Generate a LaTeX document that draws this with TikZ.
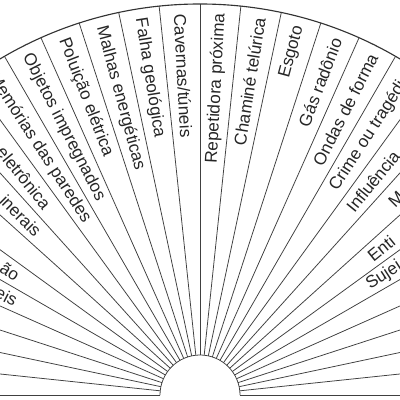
\documentclass[tikz,border=0pt]{standalone}
\usepackage{fontspec}
\setmainfont{Liberation Sans}
\usepackage{tikz}
\usetikzlibrary{calc}
\tikzset{
  rotulo/.style={inner sep=0, text=black!85, font=\fontsize{12.2}{14}\selectfont},
  raio/.style={black!75, line width=.55pt},
}

\begin{document}
\begin{tikzpicture}
\useasboundingbox (-5,-0.125) rectangle (5,9.875);
% raios do semicirculo
\foreach \a in {0,6,...,180} {
 \draw[raio] (\a:1) -- (\a:9.775);
}
\draw[black!80, line width=.8pt] (9.775,0) arc (0:180:9.775);
\draw[raio] (1,0) arc (0:180:1);
% lado esquerdo
\foreach \a/\t/\n in {93/{Cavernas/túneis}/cav, 99/{Falha geológica}/falha, 105/{Malhas energéticas}/malhas, 111/{Poluição elétrica}/polu, 117/{Objetos impregnados}/obj, 123/{Memórias das paredes}/mem} {
 \node[rotulo, anchor=west, rotate=\a-180] (\n) at (\a:9.55) {\t};
}
\node[rotulo, anchor=east, rotate=-51] (eletr) at (129:6.05) {eletrônica};
\node[rotulo, anchor=east, rotate=-45] (miner) at (135:5.7) {inerais};
\node[rotulo, anchor=east, rotate=-33] (ao) at (147:5.42) {ão};
\node[rotulo, anchor=east, rotate=-27] (eis) at (153:5.15) {eis};
% lado direito
\foreach \a/\t/\n in {87/{Repetidora próxima}/rep, 81/{Chaminé telúrica}/cham, 75/{Esgoto}/esg, 69/{Gás radônio}/gas, 63/{Ondas de forma}/ondas, 57/{Crime ou tragédia}/crime} {
 \node[rotulo, anchor=east, rotate=\a] (\n) at (\a:9.55) {\t};
}
\node[rotulo, anchor=west, rotate=51] (infl) at (51:5.95) {Influência};
\node[rotulo, anchor=west, rotate=45] (m) at (45:6.75) {M};
\node[rotulo, anchor=west, rotate=39] (enti) at (39:5.45) {Enti};
\node[rotulo, anchor=west, rotate=33] (suj) at (33:5.0) {Sujei};
\end{tikzpicture}
\end{document}
